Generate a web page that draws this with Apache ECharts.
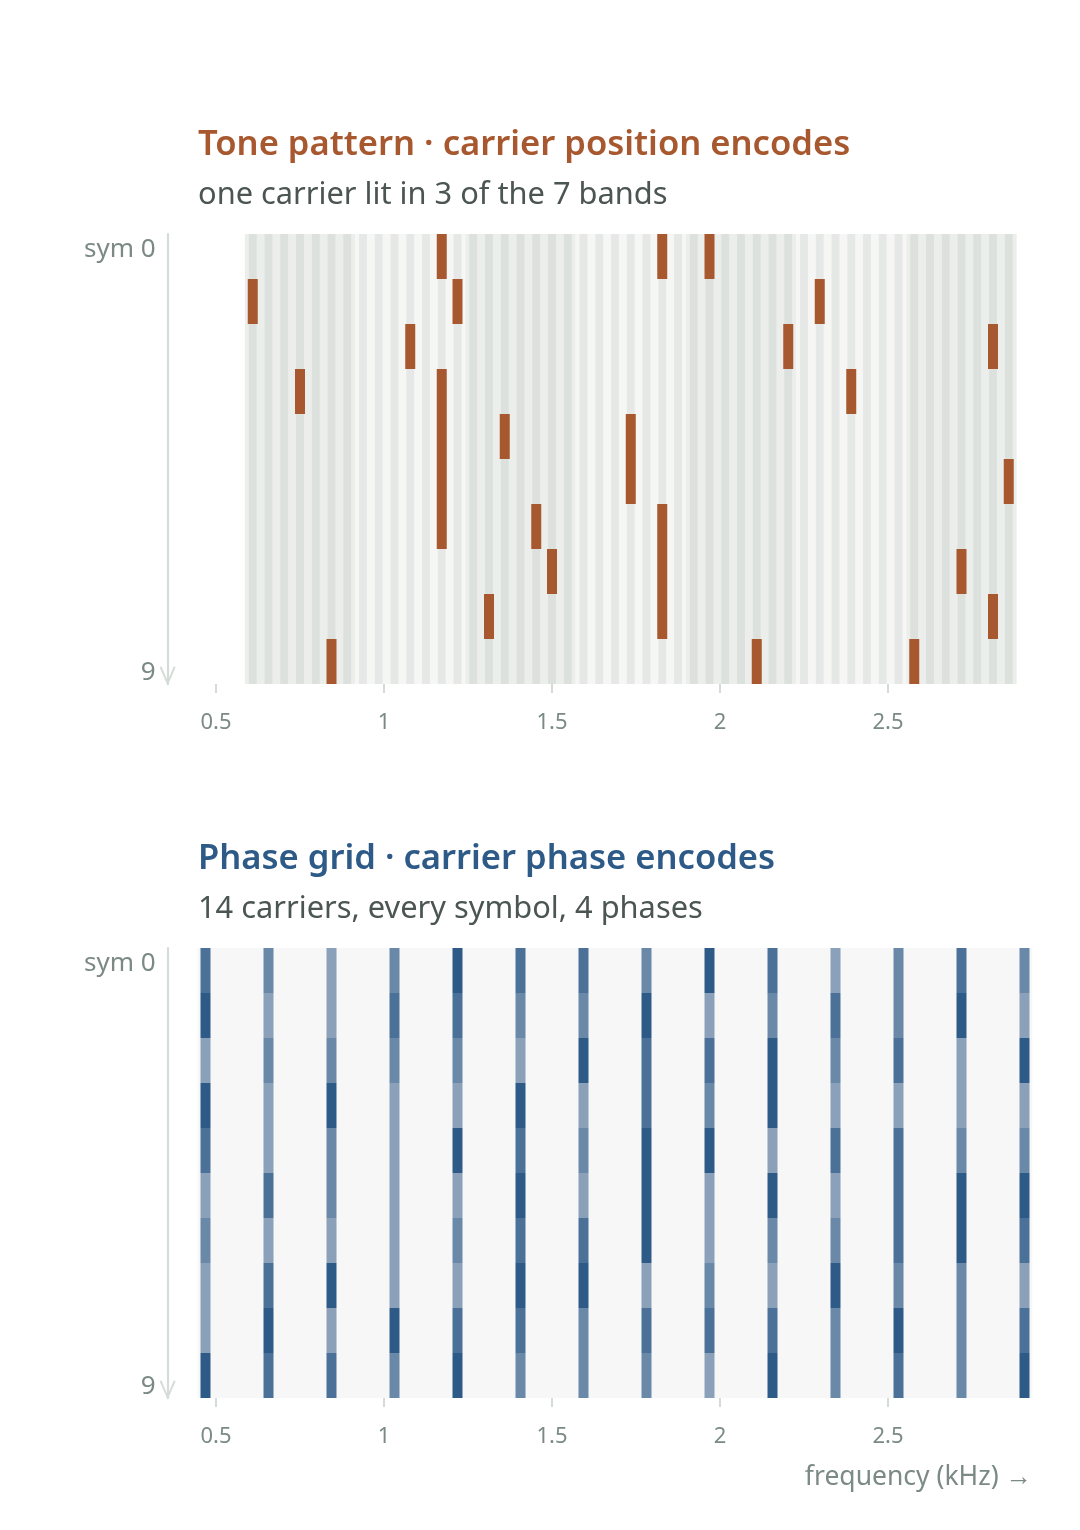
<!DOCTYPE html>
<html><head><meta charset="utf-8">
<script src="https://cdn.jsdelivr.net/npm/echarts@6/dist/echarts.min.js"></script>
<style>html,body{margin:0;padding:0;background:#fff;} #c{width:1080px;height:1530px;}</style>
</head><body><div id="c"></div>
<script>
// ---------- data ----------
const KHZ_PER_BIN = 0.046875;          // carrier spacing (kHz)
const symbolCount = 10;                 // sym 0 .. sym 9
const toneFirstBin = 13;                // bin number of the first tone carrier
const toneBandCount = 7;
const toneCarriersPerBand = 7;
// lit carrier (0..48 across the 49 tone carriers) for each symbol row
const toneLitCarriers = [
  [12, 26, 29],
  [0, 13, 36],
  [10, 34, 47],
  [3, 12, 38],
  [12, 16, 24],
  [12, 24, 48],
  [12, 18, 26],
  [19, 26, 45],
  [15, 26, 47],
  [5, 32, 42]
];
// phase grid carriers (bin numbers)
const phaseCarrierBins = [10, 14, 18, 22, 26, 30, 34, 38, 42, 46, 50, 54, 58, 62];
// phase index (0..3) per carrier, sym 0..9
const phasePerCarrier = [
  [1, 0, 3, 0, 1, 3, 2, 3, 3, 0],
  [2, 3, 2, 3, 3, 1, 3, 1, 0, 1],
  [3, 3, 2, 0, 2, 2, 3, 0, 3, 1],
  [2, 1, 2, 3, 3, 3, 3, 3, 0, 2],
  [0, 1, 2, 3, 0, 3, 2, 3, 1, 0],
  [1, 2, 3, 0, 1, 0, 1, 0, 1, 2],
  [1, 2, 0, 3, 2, 3, 1, 0, 2, 2],
  [2, 0, 1, 1, 0, 0, 0, 3, 1, 2],
  [0, 3, 1, 2, 0, 3, 3, 2, 1, 3],
  [1, 2, 0, 0, 3, 0, 2, 3, 1, 0],
  [3, 1, 2, 3, 1, 3, 2, 0, 2, 2],
  [2, 2, 1, 3, 1, 1, 1, 2, 0, 1],
  [1, 0, 3, 3, 2, 0, 0, 2, 2, 2],
  [2, 3, 0, 3, 2, 0, 1, 3, 1, 0]
];
const xTickValues = [0.5, 1, 1.5, 2, 2.5];
const xAxisBinRange = [9.5, 62.5];
const yLabelText = ['sym 0', '9'];

// ---------- styles ----------
const FONT = '"Noto Sans", sans-serif';
const ORANGE = '#a8582f';
const BLUE = '#2e5a87';
const phaseColors = ['#2d5a86', '#4b7198', '#6a89a9', '#8aa1b9'];
const bandBase = ['#eceeeb', '#f6f7f5'];
const bandStripe = ['#dce1de', '#e5e8e6'];
const AXIS_GREY = '#d5dcd8';
const LABEL_GREY = '#7b8a85';

// ---------- derived series data ----------
const bandData = [];
for (let b = 0; b < toneBandCount; b++) {
  const lo = (toneFirstBin + b * toneCarriersPerBand - 0.5) * KHZ_PER_BIN;
  const hi = (toneFirstBin + (b + 1) * toneCarriersPerBand - 0.5) * KHZ_PER_BIN;
  bandData.push([lo, hi, b % 2]);
}
const stripeData = [];
for (let k = 0; k < toneBandCount * toneCarriersPerBand; k++) {
  stripeData.push([(toneFirstBin + k) * KHZ_PER_BIN, Math.floor(k / toneCarriersPerBand) % 2]);
}
const toneData = [];
toneLitCarriers.forEach((row, s) => row.forEach(k => toneData.push([(toneFirstBin + k) * KHZ_PER_BIN, s])));
const phaseData = [];
phasePerCarrier.forEach((col, c) => col.forEach((p, s) => phaseData.push([phaseCarrierBins[c] * KHZ_PER_BIN, s, p])));

const xMin = xAxisBinRange[0] * KHZ_PER_BIN, xMax = xAxisBinRange[1] * KHZ_PER_BIN;
const gridLeft = 197.625, gridWidth = 834.75;

function xAxisCfg(gridIndex) {
  return {
    type: 'value', gridIndex, min: xMin, max: xMax, position: 'bottom',
    axisLine: {show: false, onZero: false},
    splitLine: {show: false},
    axisTick: {show: true, customValues: xTickValues, length: 9, lineStyle: {color: AXIS_GREY, width: 2}},
    axisLabel: {customValues: xTickValues, margin: 28, color: LABEL_GREY, fontFamily: FONT, fontSize: 22,
      formatter: v => String(v)}
  };
}
function yAxisCfg(gridIndex) {
  return {
    type: 'value', gridIndex, min: 0, max: symbolCount, inverse: true, offset: 30,
    splitLine: {show: false},
    axisTick: {show: false},
    axisLine: {show: true, onZero: false, lineStyle: {color: AXIS_GREY, width: 2.2},
      symbol: ['path://M8,0 L16,18.4 L14.2,19.4 L8,4.6 L1.8,19.4 L0,18.4 Z', 'none'],
      symbolSize: [16, 19.4], symbolOffset: [8, 0]},
    axisLabel: {customValues: [0, symbolCount], margin: 12, color: LABEL_GREY, fontFamily: FONT, fontSize: 26,
      formatter: v => v === 0 ? '{t|' + yLabelText[0] + '}' : '{b|' + yLabelText[1] + '}',
      rich: {
        t: {padding: [32, 0, 0, 0], color: LABEL_GREY, fontFamily: FONT, fontSize: 26},
        b: {padding: [0, 0, 22, 0], color: LABEL_GREY, fontFamily: FONT, fontSize: 26}
      }}
  };
}

const chart = echarts.init(document.getElementById('c'), null, {renderer: 'canvas'});
chart.setOption({
  backgroundColor: '#ffffff',
  animation: false,
  title: [
    {text: 'Tone pattern · carrier position encodes', subtext: 'one carrier lit in 3 of the 7 bands',
     left: 193, top: 123, itemGap: 17,
     textStyle: {color: ORANGE, fontFamily: FONT, fontSize: 34.6, fontWeight: 600},
     subtextStyle: {color: '#4b5551', fontFamily: FONT, fontSize: 30.8}},
    {text: 'Phase grid · carrier phase encodes', subtext: '14 carriers, every symbol, 4 phases',
     left: 193, top: 837, itemGap: 17,
     textStyle: {color: BLUE, fontFamily: FONT, fontSize: 34.6, fontWeight: 600},
     subtextStyle: {color: '#4b5551', fontFamily: FONT, fontSize: 30.8}}
  ],
  grid: [
    {left: gridLeft, width: gridWidth, top: 234, height: 450},
    {left: gridLeft, width: gridWidth, top: 948, height: 450, show: true, backgroundColor: '#f7f7f7', borderWidth: 0}
  ],
  xAxis: [xAxisCfg(0), xAxisCfg(1)],
  yAxis: [yAxisCfg(0), yAxisCfg(1)],
  graphic: [
    {type: 'text', right: 48, top: 1464,
     style: {text: 'frequency (kHz) →', fill: LABEL_GREY, font: '26.5px ' + FONT}}
  ],
  series: [
    {
      type: 'custom', xAxisIndex: 0, yAxisIndex: 0, silent: true,
      data: bandData, encode: {x: [0, 1]},
      renderItem(params, api) {
        const p0 = api.coord([api.value(0), 0]);
        const p1 = api.coord([api.value(1), symbolCount]);
        return {type: 'rect', shape: {x: p0[0], y: p0[1], width: p1[0] - p0[0], height: p1[1] - p0[1]},
          style: {fill: bandBase[api.value(2)]}};
      }
    },
    {
      type: 'custom', xAxisIndex: 0, yAxisIndex: 0, silent: true,
      data: stripeData, encode: {x: 0},
      renderItem(params, api) {
        const f = api.value(0);
        const p0 = api.coord([f - KHZ_PER_BIN / 4, 0]);
        const p1 = api.coord([f + KHZ_PER_BIN / 4, symbolCount]);
        return {type: 'rect', shape: {x: p0[0], y: p0[1], width: p1[0] - p0[0], height: p1[1] - p0[1]},
          style: {fill: bandStripe[api.value(1)]}};
      }
    },
    {
      type: 'custom', xAxisIndex: 0, yAxisIndex: 0,
      data: toneData, encode: {x: 0, y: 1},
      renderItem(params, api) {
        const f = api.value(0), s = api.value(1);
        const p0 = api.coord([f, s]);
        const p1 = api.coord([f, s + 1]);
        return {type: 'rect', shape: {x: p0[0] - 5, y: p0[1], width: 10, height: p1[1] - p0[1]},
          style: {fill: ORANGE}};
      }
    },
    {
      type: 'custom', xAxisIndex: 1, yAxisIndex: 1,
      data: phaseData, encode: {x: 0, y: 1},
      renderItem(params, api) {
        const f = api.value(0), s = api.value(1);
        const p0 = api.coord([f, s]);
        const p1 = api.coord([f, s + 1]);
        return {type: 'rect', shape: {x: p0[0] - 5, y: p0[1], width: 10, height: p1[1] - p0[1]},
          style: {fill: phaseColors[api.value(2)]}};
      }
    }
  ]
});
</script></body></html>
